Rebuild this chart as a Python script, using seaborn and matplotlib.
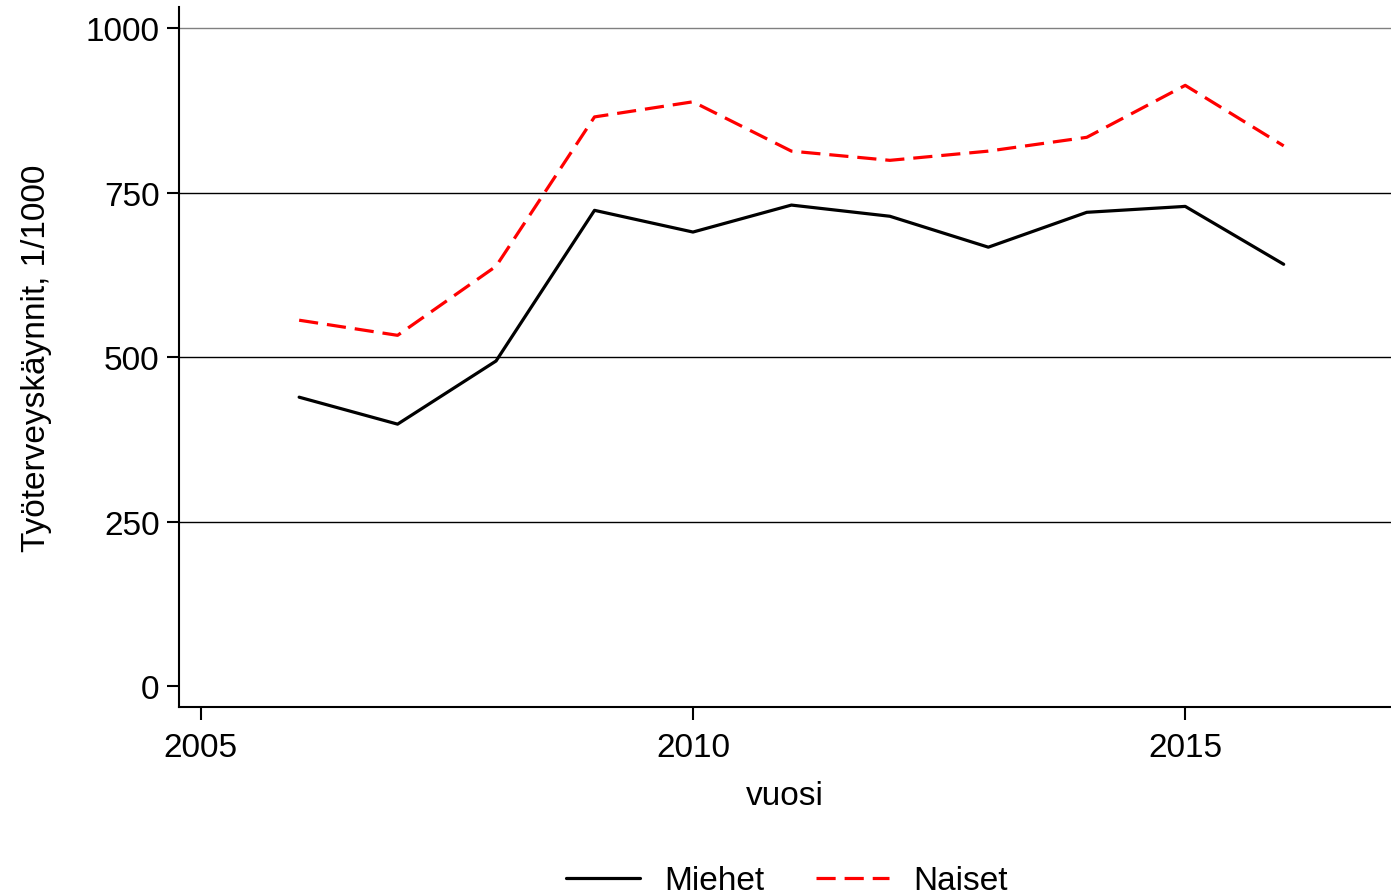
import pandas as pd
import matplotlib.pyplot as plt
import seaborn as sns

# Values
years = [2006, 2007, 2008, 2009, 2010, 2011, 2012, 2013, 2014, 2015, 2016]
miehet = [439, 398, 494, 723, 690, 731, 714, 667, 720, 729, 641]
naiset = [556, 533, 638, 865, 888, 813, 799, 813, 834, 913, 821]
yticks = [0, 250, 500, 750, 1000]
xticks = [2005, 2010, 2015]

df = pd.DataFrame({
    "vuosi": years * 2,
    "arvo": miehet + naiset,
    "sukupuoli": ["Miehet"] * len(years) + ["Naiset"] * len(years),
})

sns.set_style("white")
plt.rcParams["font.family"] = ["Liberation Sans", "DejaVu Sans"]
plt.rcParams["text.color"] = "black"
plt.rcParams["axes.labelcolor"] = "black"

fig = plt.figure(figsize=(13.91, 8.95), dpi=100)
ax = fig.add_axes([0.1287, 0.2089, 0.8713, 0.7821])

sns.lineplot(data=df, x="vuosi", y="arvo", hue="sukupuoli", style="sukupuoli",
             palette={"Miehet": "black", "Naiset": "red"},
             dashes={"Miehet": "", "Naiset": (6, 2.8)},
             linewidth=2.3, ax=ax, legend=True)

# horizontal gridlines (Stata style, top one lighter)
for t in yticks[1:]:
    ax.axhline(t, color="gray" if t == 1000 else "black", linewidth=1.0, zorder=0)

ax.set_xlim(2004.78, 2017.09)
ax.set_ylim(-32, 1032)
ax.set_xticks(xticks)
ax.set_yticks(yticks)
ax.tick_params(axis="y", pad=5)
ax.tick_params(axis="x", pad=9)
ax.tick_params(axis="both", labelsize=24, length=9, width=1.5, direction="out",
               colors="black")
ax.tick_params(left=True, bottom=True)

for side in ["top", "right"]:
    ax.spines[side].set_visible(False)
for side in ["left", "bottom"]:
    ax.spines[side].set_color("black")
    ax.spines[side].set_linewidth(1.5)

ax.set_xlabel("vuosi", fontsize=24, labelpad=12)
ax.set_ylabel("Työterveyskäynnit, 1/1000", fontsize=24, labelpad=24)

handles, labels = ax.get_legend_handles_labels()
ax.get_legend().remove()
fig.legend(handles, labels, loc="lower center", bbox_to_anchor=(0.566, -0.036),
           ncol=2, frameon=False, fontsize=24, handlelength=2.2,
           columnspacing=1.55, handletextpad=0.73)

fig.savefig("out.png", dpi=100)
